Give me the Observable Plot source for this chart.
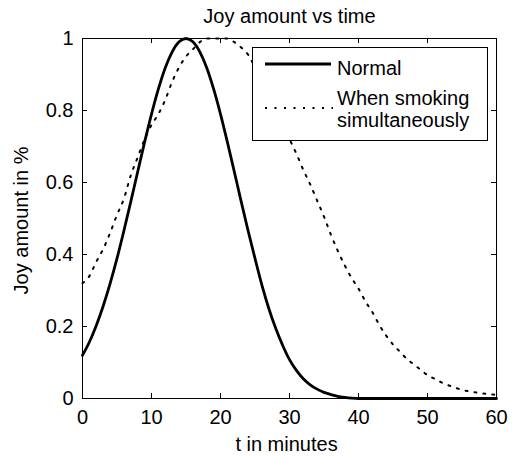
<!DOCTYPE html>
<html>
<head>
<meta charset="utf-8">
<script src="https://cdn.jsdelivr.net/npm/d3@7"></script>
<script src="https://cdn.jsdelivr.net/npm/@observablehq/plot@0.6"></script>
<style>
  html, body { margin: 0; padding: 0; background: #fff; }
  #chart { width: 512px; height: 459px; }
</style>
</head>
<body>
<div id="chart"></div>
<script>
const titleText = "Joy amount vs time";
const xLabel = "t in minutes";
const yLabel = "Joy amount in %";
const seriesNames = ["Normal", "When smoking", "simultaneously"];

const minutes = [0,1,2,3,4,5,6,7,8,9,10,11,12,13,14,15,16,17,18,19,20,21,22,23,24,25,26,27,28,29,30,
  31,32,33,34,35,36,37,38,39,40,41,42,43,44,45,46,47,48,49,50,51,52,53,54,55,56,57,58,59,60];

const normalJoy = [0.12,0.157,0.203,0.257,0.319,0.389,0.466,0.547,0.63,0.712,0.79,0.86,0.919,0.963,0.991,1,
  0.991,0.963,0.919,0.86,0.79,0.712,0.63,0.547,0.466,0.389,0.315,0.25,0.195,0.148,0.108,
  0.078,0.055,0.038,0.026,0.017,0.011,0.006,0.003,0.001,0,0,0,0,0,0,0,0,0,0,0,0,0,0,0,0,0,0,0,0,0];

const smokingJoy = [0.32,0.34,0.38,0.415,0.46,0.51,0.555,0.62,0.67,0.72,0.76,0.79,0.83,0.88,0.92,0.95,
  0.97,0.99,1,1,1,1,0.99,0.975,0.955,0.92,0.88,0.84,0.8,0.755,0.72,
  0.68,0.635,0.595,0.55,0.505,0.455,0.41,0.37,0.335,0.305,0.27,0.24,0.205,0.175,0.15,
  0.13,0.11,0.095,0.08,0.065,0.055,0.045,0.037,0.03,0.024,0.02,0.017,0.014,0.012,0.01];

const xTicks = [0,10,20,30,40,50,60];
const xTickLabels = ["0","10","20","30","40","50","60"];
const yTicks = [0,0.2,0.4,0.6,0.8,1];
const yTickLabels = ["0","0.2","0.4","0.6","0.8","1"];

const normalData = minutes.map((t, i) => ({t, v: normalJoy[i]}));
const smokingData = minutes.map((t, i) => ({t, v: smokingJoy[i]}));

const FONT = "'Liberation Sans', Arial, sans-serif";
const FS = 20;

const plot = Plot.plot({
  width: 512,
  height: 459,
  marginLeft: 82,
  marginRight: 16,
  marginTop: 38,
  marginBottom: 61,
  style: {fontFamily: FONT, fontSize: FS + "px", background: "#fff", color: "#000"},
  x: {domain: [0, 60]},
  y: {domain: [0, 1]},
  marks: [
    Plot.line(smokingData, {x: "t", y: "v", stroke: "#000", strokeWidth: 2,
      strokeDasharray: "2,7", curve: "monotone-x"}),
    Plot.line(normalData, {x: "t", y: "v", stroke: "#000", strokeWidth: 2.8, curve: "monotone-x"}),
    Plot.frame({stroke: "#000", strokeWidth: 1}),
    Plot.axisX(xTicks, {anchor: "bottom", tickSize: 0, tickPadding: 11, fontSize: FS, label: null,
      tickFormat: (d, i) => xTickLabels[i]}),
    Plot.axisY(yTicks, {anchor: "left", tickSize: 0, tickPadding: 9, fontSize: FS, label: null,
      tickFormat: (d, i) => yTickLabels[i]}),
    Plot.text([titleText], {frameAnchor: "top", textAnchor: "middle", lineAnchor: "bottom", dy: -16, fontSize: FS, fill: "#000"}),
    Plot.text([xLabel], {frameAnchor: "bottom", textAnchor: "middle", lineAnchor: "bottom", dy: 52, dx: -3, fontSize: FS, fill: "#000"}),
    Plot.text([yLabel], {frameAnchor: "left", textAnchor: "middle", lineAnchor: "middle", rotate: -90, dx: -61, dy: 2, fontSize: FS, fill: "#000"})
  ]
});

const svg = d3.select(plot);
const sx = plot.scale("x"), sy = plot.scale("y");
const [x0, x1] = sx.range, [y0, y1] = sy.range; // y0 bottom, y1 top

// Inward ticks on all four sides (MATLAB box style)
const tg = svg.append("g").attr("stroke", "#000").attr("stroke-width", 1).attr("shape-rendering", "crispEdges");
xTicks.forEach(v => {
  const px = Math.round(sx.apply(v)) + 0.5;
  tg.append("line").attr("x1", px).attr("x2", px).attr("y1", y0).attr("y2", y0 - 5);
  tg.append("line").attr("x1", px).attr("x2", px).attr("y1", y1).attr("y2", y1 + 5);
});
yTicks.forEach(v => {
  const py = Math.round(sy.apply(v)) + 0.5;
  tg.append("line").attr("y1", py).attr("y2", py).attr("x1", x0).attr("x2", x0 + 5);
  tg.append("line").attr("y1", py).attr("y2", py).attr("x1", x1).attr("x2", x1 - 5);
});

// Legend (drawn on top of the plot)
const lg = svg.append("g").attr("font-family", FONT).attr("font-size", FS).attr("text-anchor", "start");
lg.append("rect").attr("x", 252.5).attr("y", 47.5).attr("width", 235).attr("height", 93)
  .attr("fill", "#fff").attr("stroke", "#000").attr("stroke-width", 1);
lg.append("line").attr("x1", 265).attr("x2", 331).attr("y1", 64).attr("y2", 64)
  .attr("stroke", "#000").attr("stroke-width", 2.8);
lg.append("text").attr("x", 337).attr("y", 75).attr("text-anchor", "start").text(seriesNames[0]);
lg.append("line").attr("x1", 265).attr("x2", 333).attr("y1", 108).attr("y2", 108)
  .attr("stroke", "#000").attr("stroke-width", 2).attr("stroke-dasharray", "2,7.5");
lg.append("text").attr("x", 337).attr("y", 105).attr("text-anchor", "start").text(seriesNames[1]);
lg.append("text").attr("x", 337).attr("y", 127).attr("text-anchor", "start").text(seriesNames[2]);

document.getElementById("chart").appendChild(plot);
</script>
</body>
</html>
